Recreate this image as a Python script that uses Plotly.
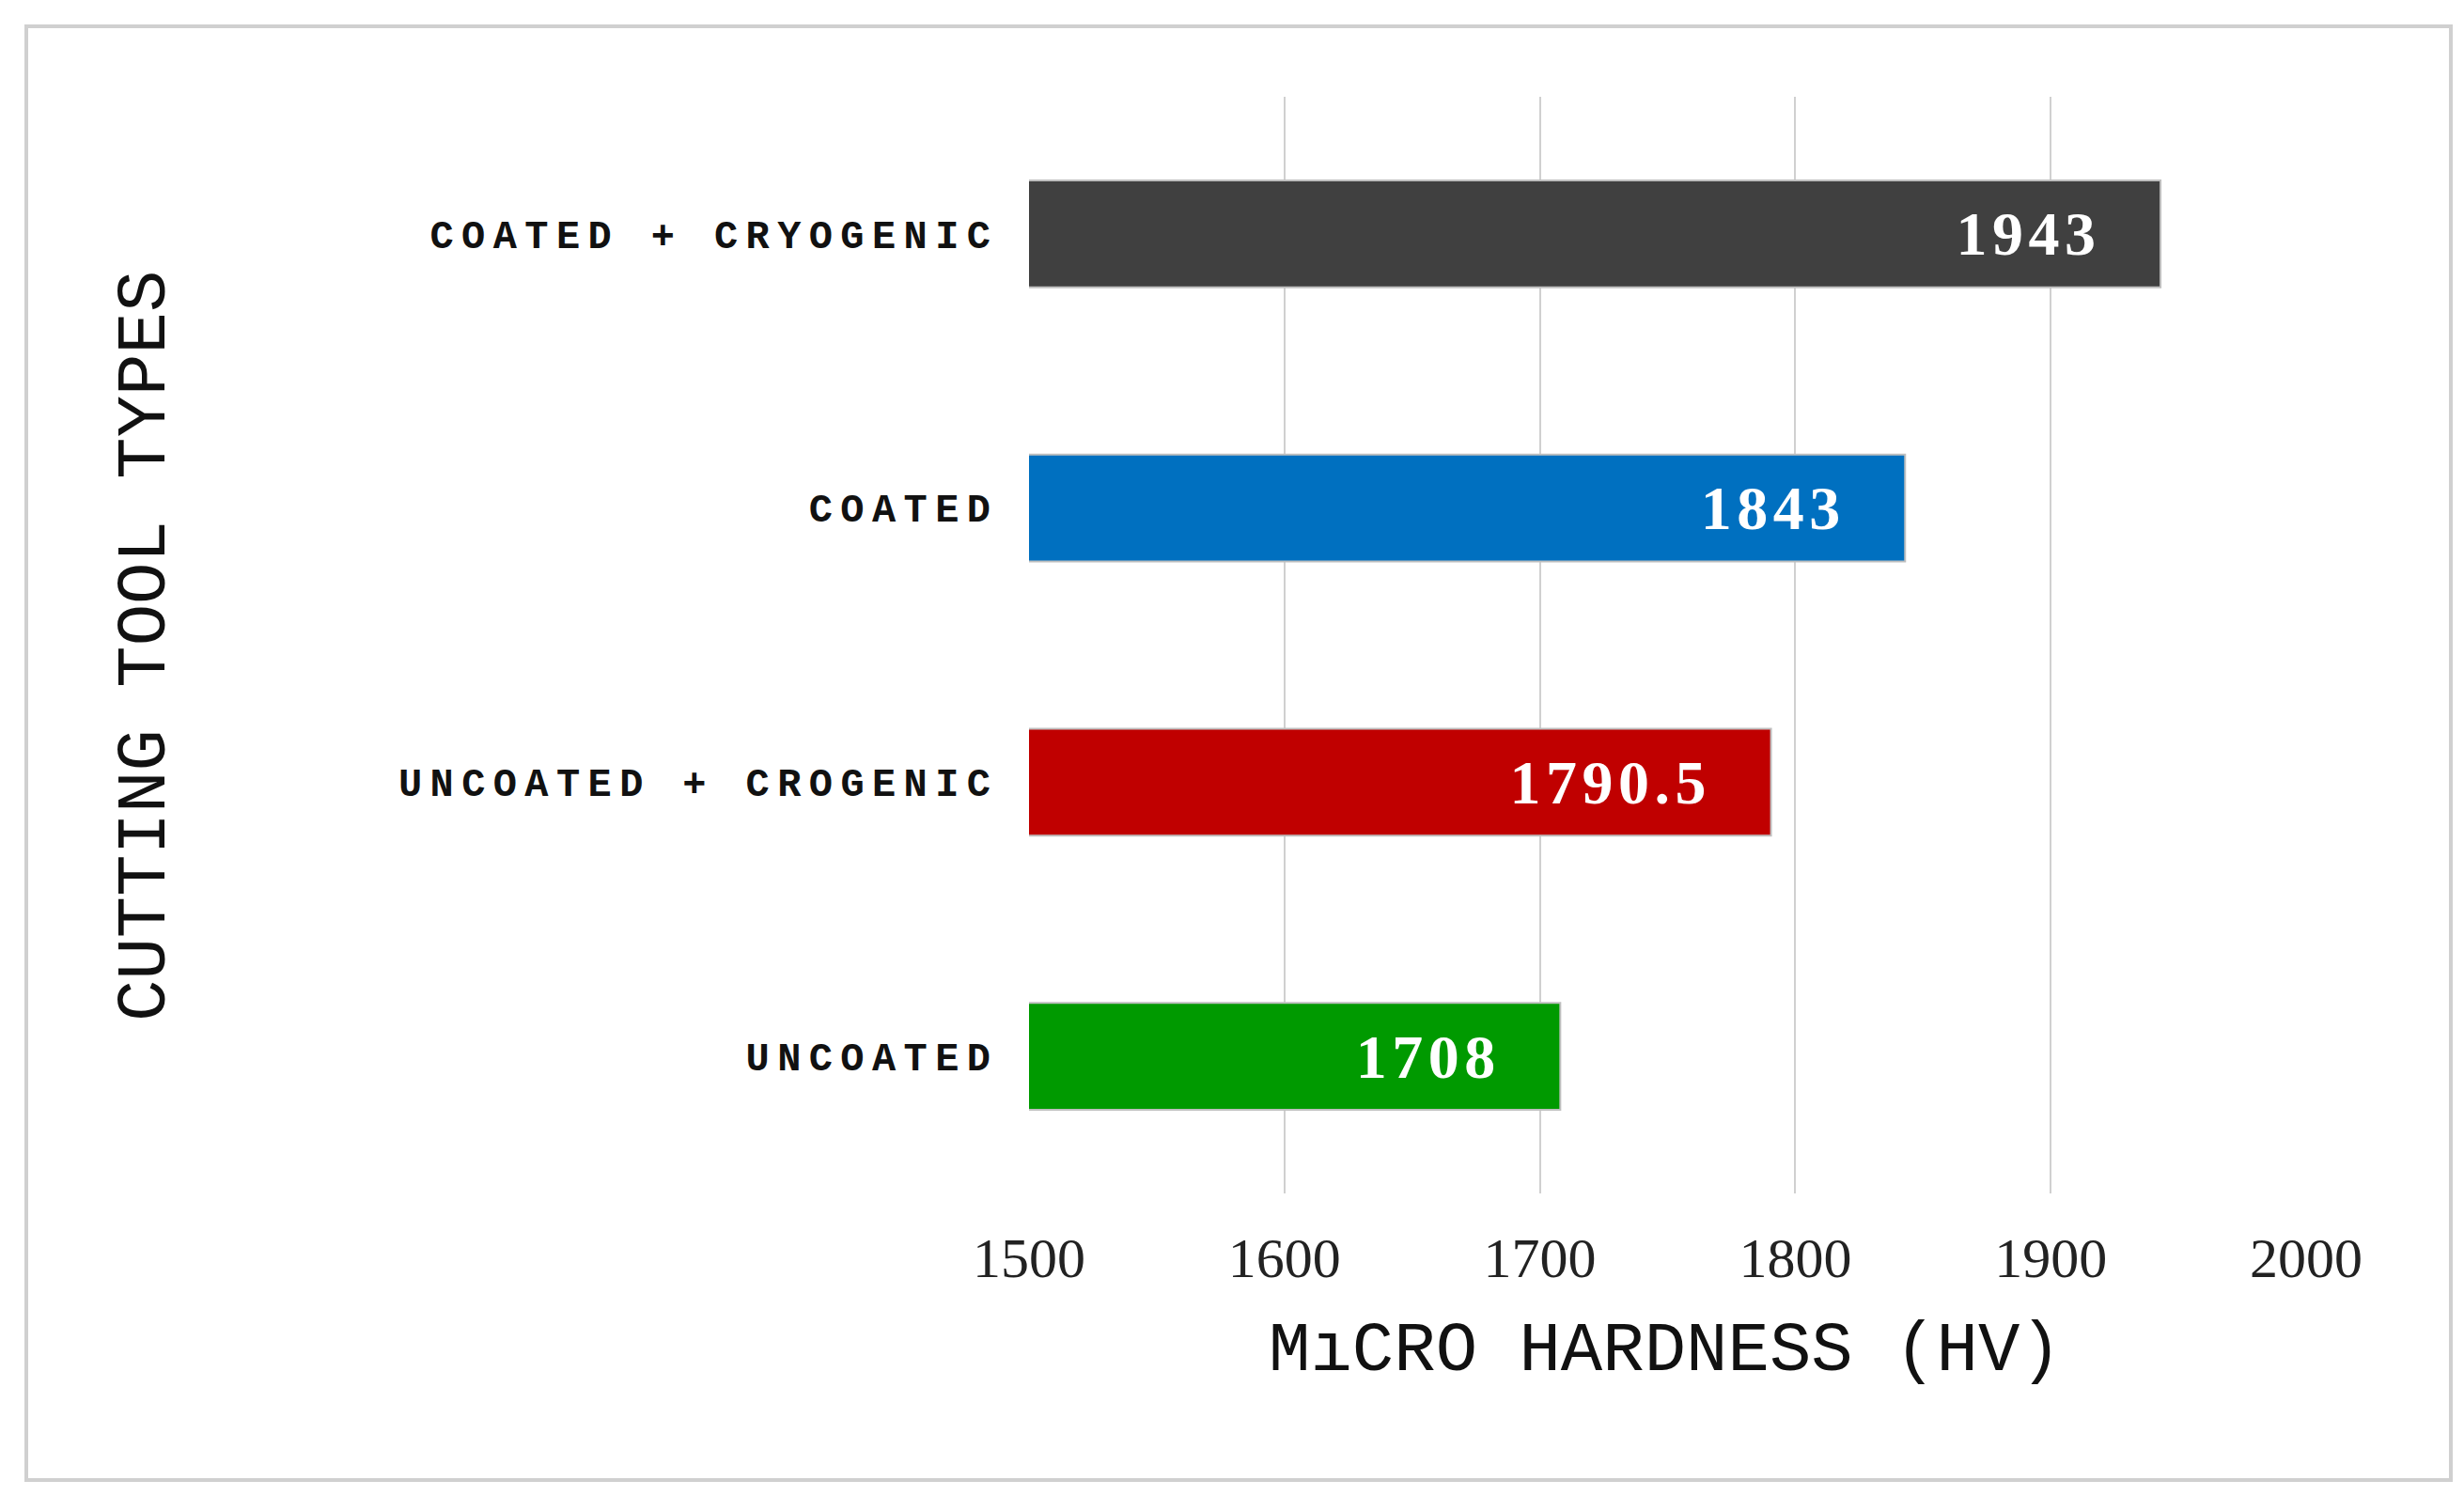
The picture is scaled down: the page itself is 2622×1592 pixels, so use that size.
import plotly.graph_objects as go

categories = ["UNCOATED", "UNCOATED + CROGENIC", "COATED", "COATED + CRYOGENIC"]
values = [1708, 1790.5, 1843, 1943]
value_labels = ["1708", "1790.5", "1843", "1943"]
colors = ["#009a00", "#c00000", "#0070c0", "#404040"]
tick_vals = [1500, 1600, 1700, 1800, 1900, 2000]

W, H = 2622, 1592
L, R, T, B = 1087, 176, 95, 330
pw, ph = W - L - R, H - T - B

def spaced(s, sep="\u2009"):
    return sep.join(list(s))

fig = go.Figure(go.Bar(
    y=categories, x=values, orientation="h",
    marker=dict(color=colors, line=dict(color="#bfbfbf", width=2)),
    text=[spaced(v, "\u200a") + "\u2003" for v in value_labels], textposition="inside", insidetextanchor="end",
    textfont=dict(family="Liberation Serif", size=66, color="white", weight="bold"),
    cliponaxis=False, width=0.39,
))
fig.update_layout(
    width=W, height=H, margin=dict(l=L, r=R, t=T, b=B),
    paper_bgcolor="white", plot_bgcolor="white", showlegend=False,
    xaxis=dict(range=[1500, 2000], tickvals=tick_vals, showgrid=True, gridcolor="#d0d0d0",
               gridwidth=2, zeroline=False, showline=False, ticks="",
               tickfont=dict(family="Liberation Serif", size=60, color="#222"), ticklabelstandoff=28),
    yaxis=dict(categoryorder="array", categoryarray=categories, range=[-0.5, 3.5],
               tickvals=categories, ticktext=[spaced(c) for c in categories],
               tickfont=dict(family="Liberation Mono", size=42, color="#111", weight="bold"),
               showgrid=False, ticks="", ticklabelstandoff=40),
    annotations=[
        dict(text="M\u0131CRO HARDNESS (HV)", xref="paper", yref="paper",
             x=(1764 - L) / pw, y=(H - B - 1430) / ph, showarrow=False,
             xanchor="center", yanchor="middle",
             font=dict(family="Liberation Mono", size=74, color="#111")),
        dict(text="CUTTING TOOL TYPES", xref="paper", yref="paper", textangle=-90,
             x=(147 - L) / pw, y=(H - B - 680) / ph, showarrow=False,
             xanchor="center", yanchor="middle",
             font=dict(family="Liberation Mono", size=74, color="#111")),
    ],
    shapes=[dict(type="rect", xref="paper", yref="paper",
                 x0=(20 - L) / pw, x1=(2600 - L) / pw,
                 y0=(H - B - 1567) / ph, y1=(H - B - 20) / ph,
                 line=dict(color="#d0d0d0", width=4))],
)
fig.write_html("out.html")
